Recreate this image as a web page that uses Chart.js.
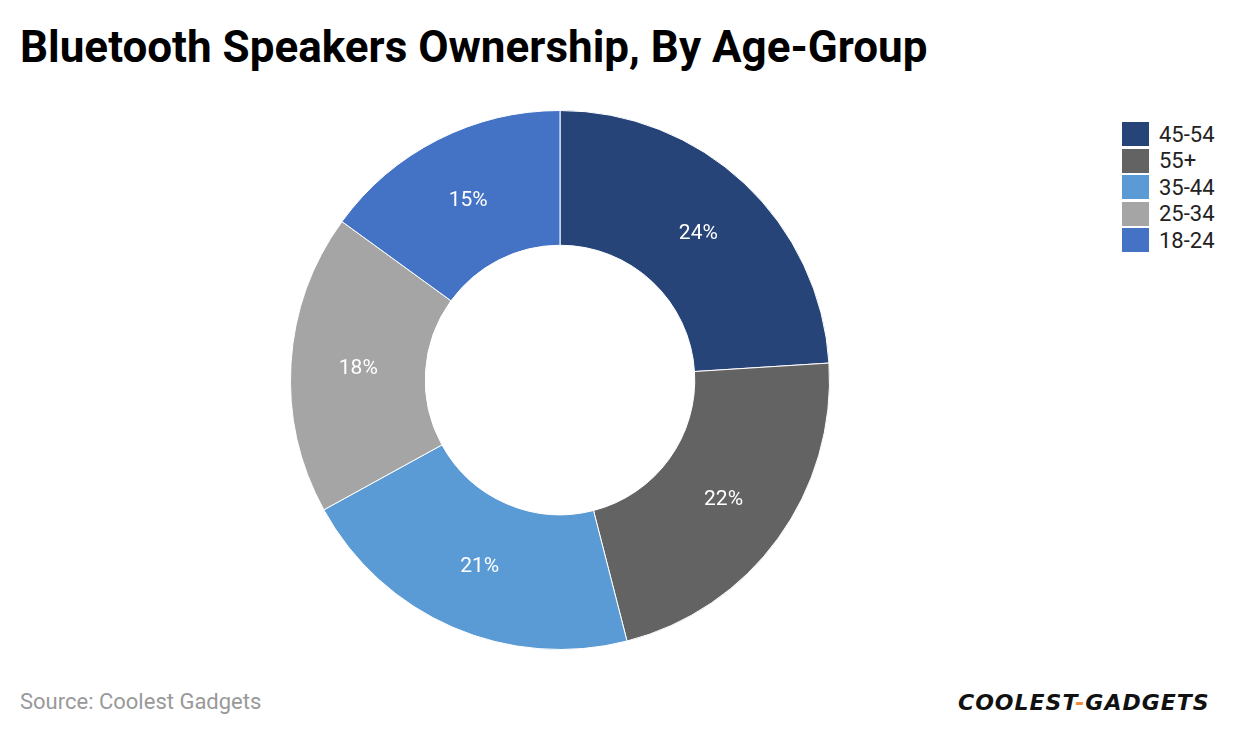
<!DOCTYPE html>
<html><head><meta charset="utf-8">
<script src="https://cdn.jsdelivr.net/npm/chart.js@4/dist/chart.umd.min.js"></script>
<style>
body{margin:0;width:1240px;height:736px;background:#fff;font-family:Roboto,sans-serif;position:relative;overflow:hidden}
h1{position:absolute;left:20px;top:21px;margin:0;font-size:44px;font-weight:700;color:#000;white-space:nowrap}
#wrap{position:absolute;left:0;top:110px;width:1120px;height:540px}
#legend{position:absolute;left:1122px;top:121px;font-size:22px;color:#222}
#legend div{display:flex;align-items:center;height:26.5px}
#legend span{display:inline-block;width:27px;height:24px;margin-right:10px}
#src{position:absolute;left:20px;top:689px;font-size:22px;color:#999}
#logo{position:absolute;left:958px;top:690px;font-size:22px;font-weight:900;font-style:italic;letter-spacing:1px;color:#111;font-family:"DejaVu Sans",sans-serif;white-space:nowrap}
</style></head><body>
<h1>Bluetooth Speakers Ownership, By Age-Group</h1>
<div id="wrap"><canvas id="c"></canvas></div>
<div id="legend"></div>
<div id="src">Source: Coolest Gadgets</div>
<div id="logo">COOLEST<span style="color:#f08a3c">-</span>GADGETS</div>
<script>
const categories=["45-54","55+","35-44","25-34","18-24"];
const values=[24,22,21,18,15];
const colors=["#264478","#636363","#5B9BD5","#A5A5A5","#4472C4"];
const lg=document.getElementById('legend');
categories.forEach((c,i)=>{lg.innerHTML+=`<div><span style="background:${colors[i]}"></span>${c}</div>`});
const labelPlugin={id:'lbl',afterDatasetsDraw(chart){
 const ctx=chart.ctx;ctx.save();ctx.fillStyle='#fff';ctx.font='21px Roboto';ctx.textAlign='center';ctx.textBaseline='middle';
 chart.getDatasetMeta(0).data.forEach((a,i)=>{const p=a.tooltipPosition();ctx.fillText(values[i]+'%',p.x,p.y+1);});ctx.restore();}};
new Chart(document.getElementById('c'),{type:'doughnut',
 data:{labels:categories,datasets:[{data:values,backgroundColor:colors,borderColor:'#fff',borderWidth:1}]},
 options:{responsive:true,maintainAspectRatio:false,animation:false,cutout:'50%',
  plugins:{legend:{display:false},tooltip:{enabled:false}}},
 plugins:[labelPlugin]});
</script></body></html>
